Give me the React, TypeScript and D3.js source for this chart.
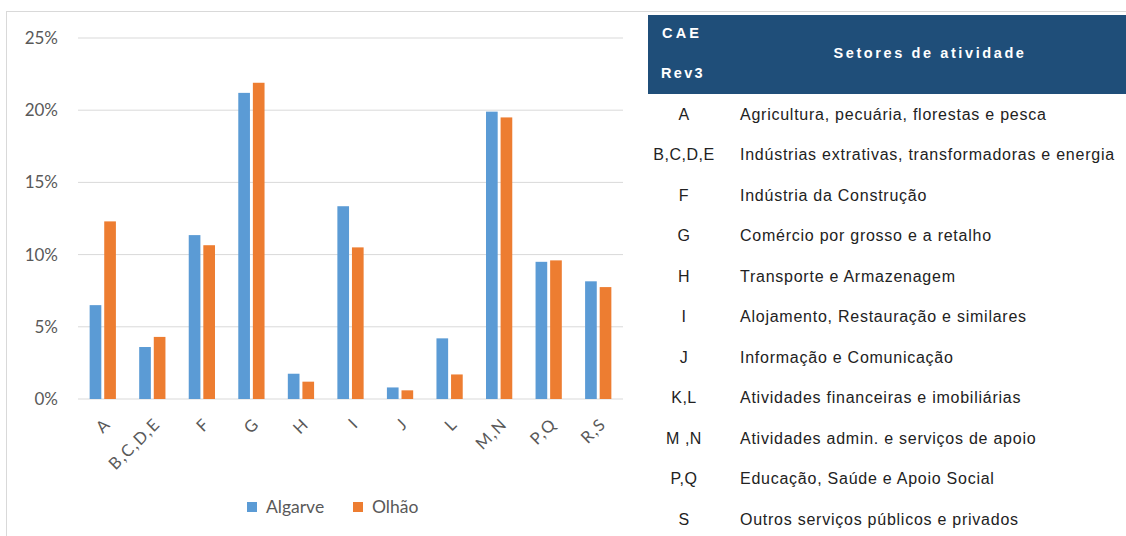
import React from "react";
import * as d3 from "d3";

const categories = ["A", "B,C,D,E", "F", "G", "H", "I", "J", "L", "M,N", "P,Q", "R,S"];
const algarve = [6.5, 3.6, 11.35, 21.2, 1.75, 13.35, 0.8, 4.2, 19.9, 9.5, 8.15];
const olhao = [12.3, 4.3, 10.65, 21.9, 1.2, 10.5, 0.6, 1.7, 19.5, 9.6, 7.75];
const seriesNames = ["Algarve", "Olhão"];
const yTicks = [0, 5, 10, 15, 20, 25];

const tableCodes = ["A", "B,C,D,E", "F", "G", "H", "I", "J", "K,L", "M ,N", "P,Q", "S"];
const tableLabels = [
  "Agricultura, pecuária, florestas e pesca",
  "Indústrias extrativas, transformadoras e energia",
  "Indústria da Construção",
  "Comércio por grosso e a retalho",
  "Transporte e Armazenagem",
  "Alojamento, Restauração e similares",
  "Informação e Comunicação",
  "Atividades financeiras e imobiliárias",
  "Atividades admin. e serviços de apoio",
  "Educação, Saúde e Apoio Social",
  "Outros serviços públicos e privados",
];

const colors = ["#5B9BD5", "#ED7D31"];

export default function App() {
  const x = d3.scaleBand<string>().domain(categories).range([78, 623]).paddingInner(0.47).paddingOuter(0.235);
  const x1 = d3.scaleBand<string>().domain(seriesNames).range([0, x.bandwidth()]).paddingInner(0.2);
  const y = d3.scaleLinear().domain([0, 25]).range([399, 38]);
  const series = [algarve, olhao];
  const rowY = d3.scaleLinear().domain([0, 10]).range([114, 519]);
  const chartFont = "Lato, 'Open Sans', sans-serif";
  const tableFont = "'Liberation Sans', Arial, sans-serif";
  const legendX = [247, 353];

  return (
    <svg width={1126} height={536} style={{ position: "absolute", left: 0, top: 0, background: "#fff" }}>
      <line x1={6.5} x2={6.5} y1={11} y2={536} stroke="#d9d9d9" />
      <line x1={6} x2={1126} y1={11.5} y2={11.5} stroke="#d9d9d9" />
      {yTicks.map((t) => (
        <g key={t}>
          <line x1={78} x2={623} y1={y(t)} y2={y(t)} stroke="#d9d9d9" strokeWidth={1} />
          <text x={58} y={y(t)} dy="0.35em" textAnchor="end" fontSize={17} fill="#595959" fontFamily={chartFont}>
            {t}%
          </text>
        </g>
      ))}
      {categories.map((c, i) => (
        <g key={c}>
          {series.map((s, j) => (
            <rect
              key={j}
              x={(x(c) as number) + (x1(seriesNames[j]) as number)}
              y={y(s[i])}
              width={x1.bandwidth()}
              height={y(0) - y(s[i])}
              fill={colors[j]}
            />
          ))}
          <text
            transform={`translate(${(x(c) as number) + x.bandwidth() / 2 + 9},${425}) rotate(-45)`}
            textAnchor="end"
            fontSize={16.5}
            letterSpacing={1.5}
            fill="#595959"
            fontFamily={chartFont}
          >
            {c}
          </text>
        </g>
      ))}
      {seriesNames.map((n, j) => (
        <g key={n} transform={`translate(${legendX[j]},0)`}>
          <rect x={0} y={502} width={10} height={10} fill={colors[j]} />
          <text x={19} y={507} dy="0.35em" fontSize={17.5} fill="#595959" fontFamily={chartFont}>
            {n}
          </text>
        </g>
      ))}
      <rect x={648} y={15} width={478} height={79} fill="#1F4E79" />
      <text x={662} y={33} dy="0.35em" fontSize={14.5} fontWeight="bold" fill="#fff" letterSpacing={3.2} fontFamily={tableFont}>
        CAE
      </text>
      <text x={661} y={73} dy="0.35em" fontSize={14.5} fontWeight="bold" fill="#fff" letterSpacing={2.3} fontFamily={tableFont}>
        Rev3
      </text>
      <text x={930} y={53} dy="0.35em" textAnchor="middle" fontSize={14.5} fontWeight="bold" fill="#fff" letterSpacing={2.6} fontFamily={tableFont}>
        Setores de atividade
      </text>
      {tableCodes.map((c, i) => (
        <g key={c}>
          <text x={684} y={rowY(i)} dy="0.35em" textAnchor="middle" fontSize={16} letterSpacing={0.5} fill="#222" fontFamily={tableFont}>
            {c}
          </text>
          <text x={740} y={rowY(i)} dy="0.35em" fontSize={16} letterSpacing={0.75} fill="#222" fontFamily={tableFont}>
            {tableLabels[i]}
          </text>
        </g>
      ))}
    </svg>
  );
}
